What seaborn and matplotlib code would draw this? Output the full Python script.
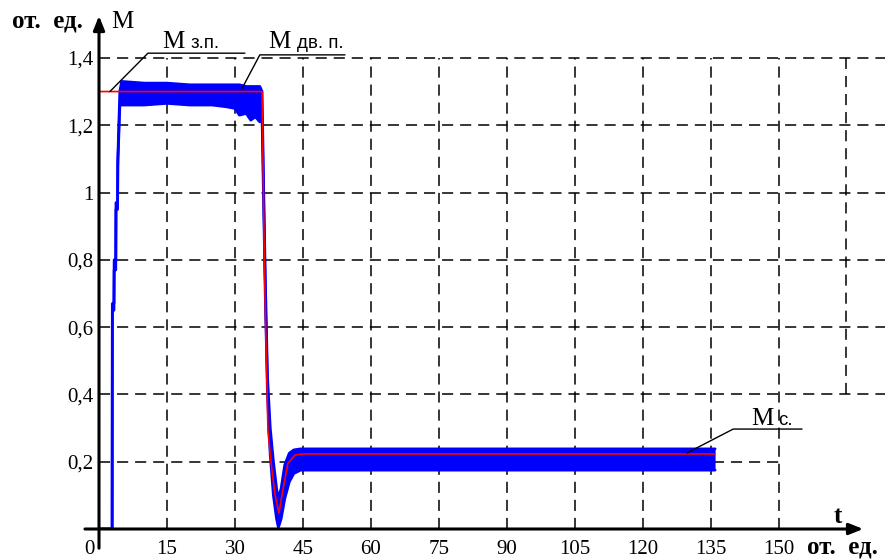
import numpy as np
import pandas as pd
import matplotlib
matplotlib.use('Agg')
import matplotlib.pyplot as plt
import matplotlib.transforms as mtransforms
import seaborn as sns

blue_t = [0, 2.9, 2.95, 3.3, 3.35, 3.7, 3.75, 4.1, 4.15, 4.6, 5.0, 10, 15, 20, 25, 28,
          30, 31, 32.5, 33.5, 34.5, 35.5, 36.0, 36.3, 36.7, 37.2, 37.8, 38.5, 39.2, 39.6,
          40.2, 41.0, 42.0, 43.0, 44.5, 60, 90, 120, 136]
blue_high = [0, 0, 0.67, 0.67, 0.80, 0.80, 0.97, 0.97, 1.10, 1.30, 1.33, 1.325, 1.325, 1.32, 1.32, 1.32,
             1.32, 1.32, 1.315, 1.315, 1.315, 1.315, 1.30, 1.05, 0.75, 0.45, 0.30, 0.20, 0.12, 0.09,
             0.12, 0.19, 0.225, 0.235, 0.238, 0.238, 0.238, 0.238, 0.238]
blue_low = [0, 0, 0.65, 0.65, 0.77, 0.77, 0.95, 0.95, 1.08, 1.26, 1.26, 1.26, 1.265, 1.26, 1.26, 1.255,
            1.25, 1.23, 1.235, 1.215, 1.225, 1.21, 1.22, 1.0, 0.70, 0.40, 0.22, 0.10, 0.03, 0.005,
            0.03, 0.09, 0.14, 0.165, 0.175, 0.175, 0.175, 0.175, 0.175]

# red trace (reference torque)
red_t = [0, 36.0, 36.2, 36.5, 36.8, 37.3, 38.0, 38.8, 39.7, 40.6, 41.7, 43.3, 45, 136]
red_m = [1.30, 1.30, 1.10, 0.80, 0.59, 0.29, 0.195, 0.107, 0.047, 0.116, 0.195, 0.22, 0.223, 0.223]

x_ticks = [0, 15, 30, 45, 60, 75, 90, 105, 120, 135, 150]
y_ticks = [0.2, 0.4, 0.6, 0.8, 1.0, 1.2, 1.4]
y_tick_labels = ['0,2', '0,4', '0,6', '0,8', '1', '1,2', '1,4']

blue_df = pd.DataFrame({'t': blue_t, 'high': blue_high, 'low': blue_low})
red_df = pd.DataFrame({'t': red_t, 'm': red_m})

sns.set_theme(style='white')
plt.rcParams['font.family'] = ['Liberation Serif', 'DejaVu Serif']
plt.rcParams['lines.scale_dashes'] = False

W, H = 891, 560
PX_T, PX_M = 4.53, 336.5          # pixels per unit on each axis
T_MAX, M_MAX = 176, 1.57
fig = plt.figure(figsize=(W / 100, H / 100), dpi=100)
# axes box spans t = 0..T_MAX, M = 0..M_MAX; arrows run outside it
ax = fig.add_axes([99 / W, 31 / H, T_MAX * PX_T / W, M_MAX * PX_M / H])
ax.set_xlim(0, T_MAX)
ax.set_ylim(0, M_MAX)
for s in ax.spines.values():
    s.set_visible(False)

# dashed grid (the lower right corner is left blank for the labels)
grid_style = dict(color='black', lw=1.1, linestyle=(0, (8, 5)), zorder=1)
ax.vlines(x_ticks[1:], 0, 1.4, **grid_style)
ax.vlines([165], 0.4, 1.4, **grid_style)
ax.hlines(y_ticks[:1], 0, 150, **grid_style)
ax.hlines(y_ticks[1:], 0, 173.5, **grid_style)

# blue noisy band
ax.fill_between(blue_df['t'], blue_df['low'], blue_df['high'], color='#0000ff', lw=0, zorder=3)
sns.lineplot(data=blue_df, x='t', y='high', color='#0000ff', lw=2, estimator=None, sort=False, ax=ax, zorder=3)
sns.lineplot(data=blue_df, x='t', y='low', color='#0000ff', lw=2, estimator=None, sort=False, ax=ax, zorder=3)

# red reference
sns.lineplot(data=red_df, x='t', y='m', color='#ff0000', lw=1.2, estimator=None, sort=False, ax=ax, zorder=4)

# axes with arrows
arrow = dict(arrowstyle='-|>,head_length=0.7,head_width=0.28', lw=2.2, color='black',
             shrinkA=0, shrinkB=0)
ax.annotate('', xy=(168.7, 0), xytext=(-3.1, 0), arrowprops=arrow, zorder=5, annotation_clip=False)
ax.annotate('', xy=(0, 1.525), xytext=(0, -0.057), arrowprops=arrow, zorder=5, annotation_clip=False)

# ticks
ax.set_xticks(x_ticks)
ax.set_xticklabels([str(v) for v in x_ticks])
ax.set_yticks(y_ticks)
ax.set_yticklabels(y_tick_labels)
ax.tick_params(axis='both', length=0, labelsize=15, colors='black')
ax.tick_params(axis='x', pad=8)
ax.tick_params(axis='y', pad=4)
lbl0 = ax.get_xticklabels()[0]
lbl0.set_transform(lbl0.get_transform() + mtransforms.ScaledTranslation(-0.1, 0, fig.dpi_scale_trans))
ax.set_xlabel('')
ax.set_ylabel('')

# leader lines for annotations
lead = dict(color='black', lw=1.0, clip_on=False, zorder=5)
ax.plot([2.4, 10.8, 32.2], [1.30, 1.414, 1.414], **lead)
ax.plot([31.6, 35.5, 54.3], [1.31, 1.409, 1.409], **lead)
ax.plot([129.8, 140.0, 155.2], [0.226, 0.297, 0.297], **lead)


def put(px, py, s, size, weight='normal', family=None):
    kw = {}
    if family:
        kw['family'] = family
    fig.text(px / W, 1 - py / H, s, fontsize=size, fontweight=weight,
             ha='left', va='baseline', color='black', **kw)


put(162, 48, 'M', 18)
put(191, 48, 'з.п.', 13.5, family=['Liberation Sans'])
put(268, 48, 'M', 18)
put(297, 48, 'дв. п.', 13.5, family=['Liberation Sans'])
put(751, 425, 'M', 18)
put(778, 425, 'с.', 13.5, family=['Liberation Sans'])

put(12, 28, 'от.  ед.', 18, weight='bold')
put(111, 28, 'M', 18)
put(834, 523, 't', 18, weight='bold')
put(807, 554, 'от.  ед.', 18, weight='bold')

fig.savefig('out.png', dpi=100)
